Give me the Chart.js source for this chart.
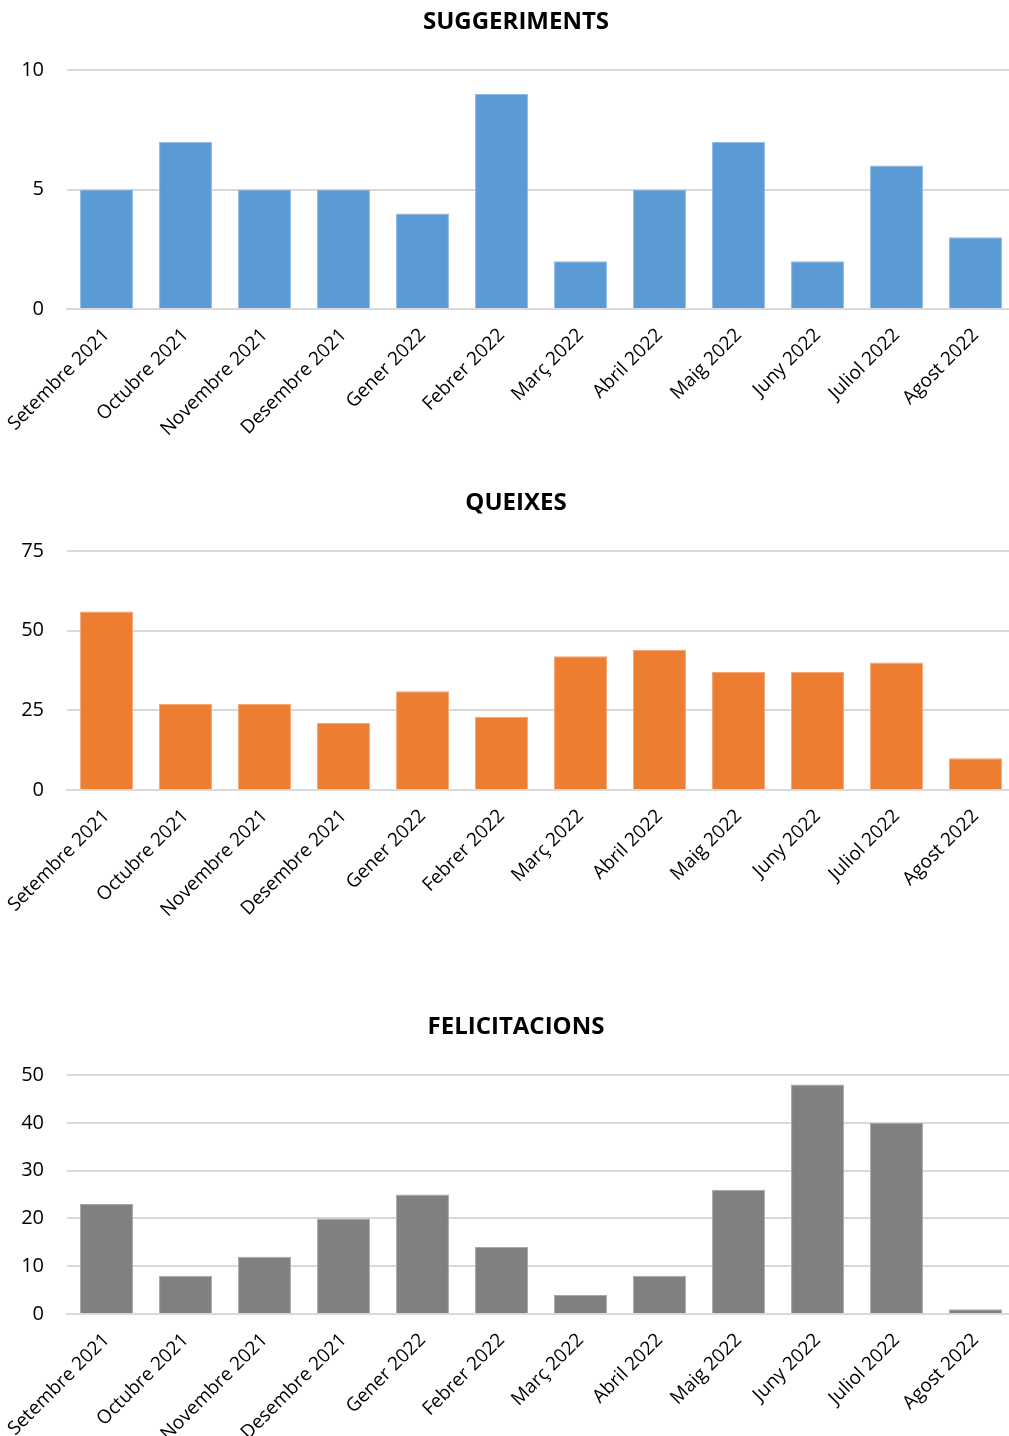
<!DOCTYPE html>
<html>
<head>
<meta charset="utf-8">
<script src="https://cdn.jsdelivr.net/npm/chart.js@4"></script>
<style>
  html, body { margin: 0; padding: 0; background: #fff; overflow: hidden; }
  body { width: 1009px; height: 1436px; position: relative; }
  canvas { position: absolute; left: 0; }
</style>
</head>
<body>
<canvas id="suggChart" width="1032" height="440" style="top:0px"></canvas>
<canvas id="queixesChart" width="1032" height="440" style="top:481px"></canvas>
<canvas id="felicChart" width="1032" height="440" style="top:1005px"></canvas>
<script>
// Months shown on every chart
const months = [
  "Setembre 2021", "Octubre 2021", "Novembre 2021", "Desembre 2021",
  "Gener 2022", "Febrer 2022", "Març 2022", "Abril 2022",
  "Maig 2022", "Juny 2022", "Juliol 2022", "Agost 2022"
];

// Monthly counts
const suggeriments = [5, 7, 5, 5, 4, 9, 2, 5, 7, 2, 6, 3];
const queixes = [56, 27, 27, 21, 31, 23, 42, 44, 37, 37, 40, 10];
const felicitacions = [23, 8, 12, 20, 25, 14, 4, 8, 26, 48, 40, 1];

// Y axis limits
const suggTicks = { max: 10, step: 5 };
const queixesTicks = { max: 75, step: 25 };
const felicTicks = { max: 50, step: 10 };

const fontFamily = "'Open Sans', 'Noto Sans', sans-serif";

function makeChart(id, title, values, color, edge, ticks) {
  return new Chart(document.getElementById(id), {
    type: "bar",
    data: {
      labels: months,
      datasets: [{
        data: values,
        backgroundColor: color,
        borderColor: edge,
        borderWidth: 1,
        barPercentage: 0.67,
        categoryPercentage: 1
      }]
    },
    options: {
      responsive: false,
      animation: false,
      layout: { padding: { left: 17, right: 17, top: 0, bottom: 0 } },
      plugins: {
        legend: { display: false },
        tooltip: { enabled: false },
        title: {
          display: true,
          text: title,
          color: "#000",
          font: { family: fontFamily, size: 24, weight: "bold", lineHeight: 1.2 },
          padding: { top: 8, bottom: 33.2 }
        }
      },
      scales: {
        x: {
          grid: { display: false },
          border: { color: "#d9d9d9", width: 2 },
          ticks: {
            color: "#000",
            font: { family: fontFamily, size: 19 },
            maxRotation: 45,
            minRotation: 45,
            autoSkip: false,
            padding: 7
          },
          afterFit: axis => { axis.height = 131; }
        },
        y: {
          min: 0,
          max: ticks.max,
          grid: { color: "#d9d9d9", lineWidth: 2, drawTicks: false },
          border: { display: false },
          ticks: {
            stepSize: ticks.step,
            color: "#000",
            font: { family: fontFamily, size: 20 },
            padding: 23
          },
          afterFit: axis => { axis.width = 50; }
        }
      }
    }
  });
}

makeChart("suggChart", "SUGGERIMENTS", suggeriments, "#5b9bd5", "#8cb9e3", suggTicks);
makeChart("queixesChart", "QUEIXES", queixes, "#ed7d31", "#f3a574", queixesTicks);
makeChart("felicChart", "FELICITACIONS", felicitacions, "#808080", "#a6a6a6", felicTicks);
</script>
</body>
</html>
